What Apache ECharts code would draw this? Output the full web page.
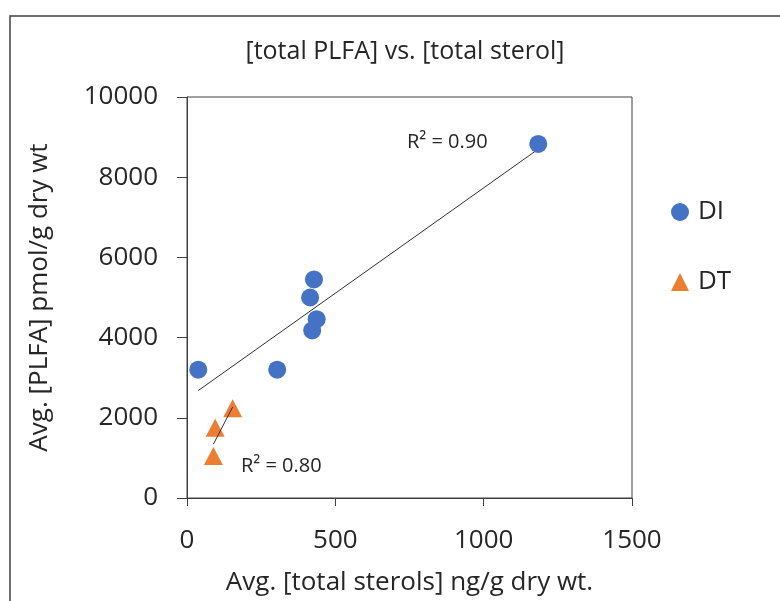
<!DOCTYPE html>
<html>
<head>
<meta charset="utf-8">
<script src="https://cdn.jsdelivr.net/npm/echarts@6/dist/echarts.min.js"></script>
<style>
  html, body { margin: 0; padding: 0; background: #fff; overflow: hidden; }
  #chart { width: 780px; height: 601px; }
</style>
</head>
<body>
<div id="chart"></div>
<script>
// Average total sterols (ng/g dry wt.) vs average total PLFA (pmol/g dry wt)
const diSterols = [38, 304, 415, 428, 437, 422, 1184];
const diPlfa    = [3200, 3200, 5000, 5450, 4460, 4180, 8830];
const dtSterols = [154, 95, 89];
const dtPlfa    = [2240, 1750, 1050];

const xTicks = { min: 0, max: 1500, step: 500 };
const yTicks = { min: 0, max: 10000, step: 2000 };

const r2Labels = { DI: 'R² = 0.90', DT: 'R² = 0.80' };

const FONT = '"Open Sans", Lato, sans-serif';
const INK = '#262626';
const AXIS = '#404040';

// Least-squares fit, returned as the two end points over the data's x range
function fitLine(xs, ys) {
  const n = xs.length;
  const mx = xs.reduce((a, b) => a + b, 0) / n;
  const my = ys.reduce((a, b) => a + b, 0) / n;
  let sxy = 0, sxx = 0;
  for (let i = 0; i < n; i++) {
    sxy += (xs[i] - mx) * (ys[i] - my);
    sxx += (xs[i] - mx) * (xs[i] - mx);
  }
  const slope = sxy / sxx;
  const icpt = my - slope * mx;
  const x0 = Math.min(...xs), x1 = Math.max(...xs);
  return [[x0, icpt + slope * x0], [x1, icpt + slope * x1]];
}

const pairs = (xs, ys) => xs.map((x, i) => [x, ys[i]]);
const plain = v => String(v);

const chart = echarts.init(document.getElementById('chart'), null, { width: 780, height: 601 });
chart.setOption({
  animation: false,
  backgroundColor: '#fff',
  title: {
    text: '[total PLFA] vs. [total sterol]',
    left: 400, top: 34, textAlign: 'center',
    textStyle: { fontFamily: FONT, fontSize: 25, fontWeight: 'normal', color: INK }
  },
  legend: {
    orient: 'vertical',
    left: 666, top: 192,
    itemGap: 40,
    itemWidth: 18, itemHeight: 18,
    data: ['DI', 'DT'],
    textStyle: { fontFamily: FONT, fontSize: 26, lineHeight: 30, color: INK, padding: [0, 0, 0, 4] }
  },
  grid: {
    left: 187, top: 97, width: 445, height: 401,
    show: true, borderColor: AXIS, borderWidth: 1, backgroundColor: 'transparent'
  },
  xAxis: {
    type: 'value',
    min: xTicks.min, max: xTicks.max, interval: xTicks.step,
    name: 'Avg. [total sterols] ng/g dry wt.',
    nameLocation: 'middle', nameGap: 72,
    nameTextStyle: { fontFamily: FONT, fontSize: 26, color: INK },
    axisLine: { lineStyle: { color: AXIS, width: 1 } },
    axisTick: { inside: false, length: 8, lineStyle: { color: AXIS } },
    axisLabel: { margin: 30, fontFamily: FONT, fontSize: 26, color: INK, formatter: plain },
    splitLine: { show: false }
  },
  yAxis: {
    type: 'value',
    min: yTicks.min, max: yTicks.max, interval: yTicks.step,
    name: 'Avg. [PLFA] pmol/g dry wt',
    nameLocation: 'middle', nameGap: 134,
    nameTextStyle: { fontFamily: FONT, fontSize: 26, color: INK },
    axisLine: { lineStyle: { color: AXIS, width: 1 } },
    axisTick: { inside: false, length: 10, lineStyle: { color: AXIS } },
    axisLabel: { margin: 29, fontFamily: FONT, fontSize: 26, color: INK, formatter: plain },
    splitLine: { show: false }
  },
  series: [
    {
      name: 'DI-fit', type: 'line', data: fitLine(diSterols, diPlfa),
      symbol: 'none', silent: true,
      lineStyle: { color: '#303030', width: 1 },
      z: 1
    },
    {
      name: 'DT-fit', type: 'line', data: fitLine(dtSterols, dtPlfa),
      symbol: 'none', silent: true,
      lineStyle: { color: '#303030', width: 1 },
      z: 3
    },
    {
      name: 'DI', type: 'scatter', data: pairs(diSterols, diPlfa),
      symbol: 'circle', symbolSize: 18,
      itemStyle: { color: '#4472C4', opacity: 1 },
      z: 2
    },
    {
      name: 'DT', type: 'scatter', data: pairs(dtSterols, dtPlfa),
      symbol: 'triangle', symbolSize: [19, 18],
      itemStyle: { color: '#ED7D31', opacity: 1 },
      z: 2
    }
  ],
  graphic: [
    {
      type: 'rect', silent: true, z: -10,
      shape: { x: 10, y: 16, width: 800, height: 620 },
      style: { fill: 'none', stroke: '#404040', lineWidth: 1.5 }
    },
    {
      type: 'text', left: 407, top: 132,
      style: { text: r2Labels.DI, fontFamily: FONT, fontSize: 20, fill: INK }
    },
    {
      type: 'text', left: 241, top: 456,
      style: { text: r2Labels.DT, fontFamily: FONT, fontSize: 20, fill: INK }
    }
  ]
});
</script>
</body>
</html>
